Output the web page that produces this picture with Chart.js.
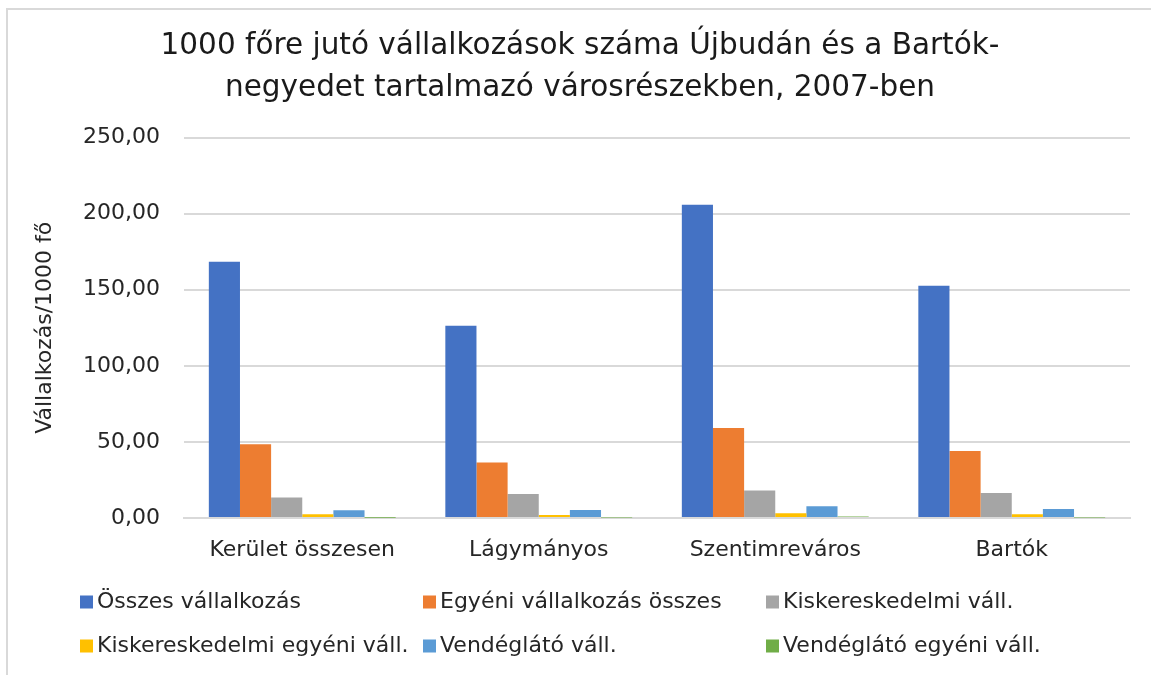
<!DOCTYPE html>
<html>
<head>
<meta charset="utf-8">
<script src="https://cdn.jsdelivr.net/npm/chart.js@4"></script>
<style>
    html, body { margin: 0; padding: 0; background: #fff; overflow: hidden; }
    .frame { position: absolute; left: 6px; top: 8px; width: 1200px; height: 700px; border-top: 2px solid #d9d9d9; border-left: 2px solid #d9d9d9; }
    .wrap { position: absolute; left: 0; top: 0; width: 1151px; height: 675px; }
</style>
</head>
<body>
<div class="frame"></div>
<div class="wrap"><canvas id="chart" width="1151" height="675"></canvas></div>
<script>
const categories = ['Kerület összesen', 'Lágymányos', 'Szentimreváros', 'Bartók']
const seriesNames = [
    'Összes vállalkozás',
    'Egyéni vállalkozás összes',
    'Kiskereskedelmi váll.',
    'Kiskereskedelmi egyéni váll.',
    'Vendéglátó váll.',
    'Vendéglátó egyéni váll.',
]
const osszes = [168.4, 126.3, 205.9, 152.6]
const egyeni = [48.5, 36.4, 59.2, 44.1]
const kisker = [13.4, 15.8, 18.0, 16.4]
const kiskerEgyeni = [2.4, 2.0, 3.1, 2.4]
const vendeglato = [5.1, 5.3, 7.7, 5.9]
const vendeglatoEgyeni = [0.2, 0.3, 1.0, 0.3]
const colors = ['#4472C4', '#ED7D31', '#A5A5A5', '#FFC000', '#5B9BD5', '#70AD47']
const yTicks = [0, 50, 100, 150, 200, 250]

const fontFamily = "'DejaVu Sans', sans-serif"
const allSeries = [osszes, egyeni, kisker, kiskerEgyeni, vendeglato, vendeglatoEgyeni]

// legend in 3 columns, 2 rows like the original
const gridLegend = {
    id: 'gridLegend',
    afterDraw(chart) {
        const ctx = chart.ctx
        ctx.save()
        ctx.font = '22px ' + fontFamily
        ctx.textBaseline = 'middle'
        chart.data.datasets.forEach((ds, i) => {
            const col = i % 3
            const row = Math.floor(i / 3)
            const x = 80 + col * 343
            const y = 602 + row * 44
            ctx.fillStyle = ds.backgroundColor
            ctx.fillRect(x, y - 6.5, 13, 13)
            ctx.fillStyle = '#262626'
            ctx.fillText(ds.label, x + 17, y)
        })
        ctx.restore()
    },
}

new Chart(document.getElementById('chart'), {
    type: 'bar',
    data: {
        labels: categories,
        datasets: allSeries.map((values, i) => ({
            label: seriesNames[i],
            data: values,
            backgroundColor: colors[i],
            borderWidth: 0,
            barPercentage: 1,
            categoryPercentage: 0.79,
        })),
    },
    options: {
        responsive: false,
        animation: false,
        layout: { padding: { left: 30, right: 21, top: 10, bottom: 0 } },
        plugins: {
            legend: { display: false },
            tooltip: { enabled: false },
            title: {
                display: true,
                text: ['1000 főre jutó vállalkozások száma Újbudán és a Bartók-', 'negyedet tartalmazó városrészekben, 2007-ben'],
                color: '#1a1a1a',
                font: { family: fontFamily, size: 29.5, weight: 'normal', lineHeight: 1.4 },
                padding: { top: 16, bottom: 29 },
            },
        },
        scales: {
            x: {
                grid: { display: false, drawTicks: false },
                border: { display: true, color: '#d9d9d9', width: 2 },
                ticks: { color: '#262626', padding: 19, font: { family: fontFamily, size: 22 } },
                afterFit: (scale) => { scale.height = 157 },
            },
            y: {
                min: 0,
                max: 250,
                afterBuildTicks: (scale) => { scale.ticks = yTicks.map((v) => ({ value: v })) },
                grid: { color: '#d9d9d9', lineWidth: 2, drawTicks: false },
                border: { display: false },
                ticks: {
                    color: '#262626',
                    padding: 24,
                    font: { family: fontFamily, size: 22 },
                    callback: (v) => v.toFixed(2).replace('.', ','),
                },
                title: {
                    display: true,
                    text: 'Vállalkozás/1000 fő',
                    color: '#262626',
                    font: { family: fontFamily, size: 22, weight: 'normal' },
                    padding: { top: 2, bottom: 0 },
                },
                afterFit: (scale) => { scale.width = 154 },
            },
        },
    },
    plugins: [gridLegend],
})
</script>
</body>
</html>
